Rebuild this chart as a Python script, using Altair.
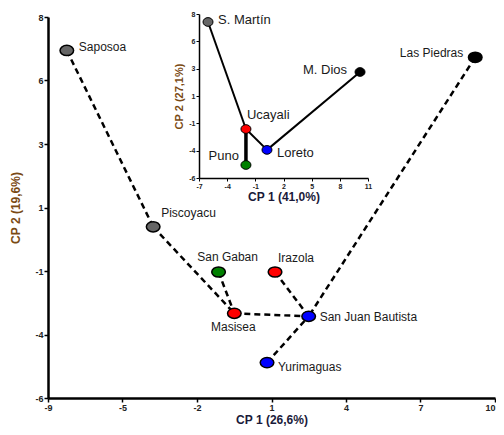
import altair as alt
import pandas as pd

# ---- main PCA (CP1 26,6% / CP2 19,6%) ----
main_names = ["Saposoa", "Piscoyacu", "San Gaban", "Masisea", "Irazola",
              "San Juan Bautista", "Yurimaguas", "Las Piedras"]
main_x = [-8.2, -4.53, -1.75, -1.08, 0.65, 2.08, 0.31, 9.16]
main_y = [6.77, 0.29, -1.37, -2.89, -1.37, -3.0, -4.70, 6.52]
main_colors = ["#666666", "#666666", "#008000", "#ff0000", "#ff0000",
               "#0000ff", "#0000ff", "#000000"]
main_edges = [("Saposoa", "Piscoyacu"), ("Piscoyacu", "Masisea"),
              ("San Gaban", "Masisea"), ("Masisea", "San Juan Bautista"),
              ("Irazola", "San Juan Bautista"), ("Yurimaguas", "San Juan Bautista"),
              ("Las Piedras", "San Juan Bautista")]
main_x_labels = ["-9", "-5", "-2", "1", "4", "7", "10"]
main_y_labels = ["-6", "-4", "-1", "1", "3", "6", "8"]

# ---- inset PCA (CP1 41,0% / CP2 27,1%) ----
ins_names = ["S. Martín", "M. Dios", "Ucayali", "Loreto", "Puno"]
ins_x = [-6.04, 10.15, -2.0, 0.24, -2.0]
ins_y = [7.32, 3.05, -1.82, -3.6, -4.89]
ins_colors = ["#666666", "#000000", "#ff0000", "#0000ff", "#008000"]
ins_edges = [("S. Martín", "Ucayali"), ("Ucayali", "Puno"),
             ("Ucayali", "Loreto"), ("Loreto", "M. Dios")]
ins_x_labels = ["-7", "-4", "-1", "2", "5", "8", "11"]
ins_y_labels = ["-6", "-4", "-1", "1", "3", "6", "8"]

FONT = "Liberation Sans"
TXT = "#1a1a1a"

W, H = 447, 381
ELLIPSE_MAIN = "M -1 0 A 1 0.75 0 1 0 1 0 A 1 0.75 0 1 0 -1 0 Z"
ELLIPSE_INS = "M -1 0 A 1 0.87 0 1 0 1 0 A 1 0.87 0 1 0 -1 0 Z"


def pts_df(names, xs, ys):
    return pd.DataFrame({"name": names, "x": xs, "y": ys})


def edges_df(names, xs, ys, edges):
    pos = {n: (a, b) for n, a, b in zip(names, xs, ys)}
    rows = []
    for a, b in edges:
        rows.append({"id": a + "-" + b, "x": pos[a][0], "y": pos[a][1],
                     "x2": pos[b][0], "y2": pos[b][1]})
    return pd.DataFrame(rows)


def label_expr(lo, hi, labels):
    step = (hi - lo) / (len(labels) - 1)
    arr = "[" + ",".join("'" + l + "'" for l in labels) + "]"
    return f"{arr}[round((datum.value - ({lo})) / {step})]"


def ticks(lo, hi, n):
    step = (hi - lo) / (n - 1)
    return [lo + i * step for i in range(n)]


# ---------- main ----------
mp = pts_df(main_names, main_x, main_y)
me = edges_df(main_names, main_x, main_y, main_edges)

mx_scale = alt.Scale(domain=[-9, 10], nice=False, zero=False)
my_scale = alt.Scale(domain=[-6, 8], nice=False, zero=False)
mx_axis = alt.Axis(title="CP 1 (26,6%)", values=ticks(-9, 10, 7),
                   labelExpr=label_expr(-9, 10, main_x_labels),
                   labelAlign={"condition": {"test": "datum.value > 9.5",
                                             "value": "right"},
                               "value": "center"},
                   labelFlush=False,
                   grid=False, domainColor="black", domainWidth=2.5,
                   tickColor="black", tickWidth=1.5, tickSize=4,
                   labelFont=FONT, labelFontSize=9, labelFontWeight="bold",
                   labelColor="#222", labelPadding=1,
                   titleFont=FONT, titleFontSize=12, titleFontWeight="bold",
                   titleColor="#1a1a3a", titlePadding=2)
my_axis = alt.Axis(title="CP 2 (19,6%)", values=ticks(-6, 8, 7),
                   labelExpr=label_expr(-6, 8, main_y_labels),
                   labelFlush=False,
                   grid=False, domainColor="black", domainWidth=2.5,
                   tickColor="black", tickWidth=1.5, tickSize=4,
                   labelFont=FONT, labelFontSize=9, labelFontWeight="bold",
                   labelColor="#222", labelPadding=1,
                   titleFont=FONT, titleFontSize=12, titleFontWeight="bold",
                   titleColor="#7a4a14", titlePadding=12)

m_x = alt.X("x:Q", scale=mx_scale, axis=mx_axis)
m_y = alt.Y("y:Q", scale=my_scale, axis=my_axis)

m_rules = alt.Chart(me).mark_rule(color="black", strokeWidth=2.5,
                                  strokeDash=[6, 4]).encode(
    x=m_x, y=m_y, x2="x2:Q", y2="y2:Q", detail="id:N")
m_points = alt.Chart(mp).mark_point(filled=True, shape=ELLIPSE_MAIN, size=185,
                                    stroke="black", strokeWidth=1.5,
                                    opacity=1).encode(
    x=m_x, y=m_y,
    fill=alt.Fill("name:N", scale=alt.Scale(domain=main_names, range=main_colors),
                  legend=None))

main_place = {
    "Saposoa": ("left", 12, -3),
    "Piscoyacu": ("left", 8, -14),
    "San Gaban": ("center", 9, -15),
    "Masisea": ("center", -1, 14),
    "Irazola": ("left", 3, -14),
    "San Juan Bautista": ("left", 11, 1),
    "Yurimaguas": ("left", 11, 4),
    "Las Piedras": ("right", -12, -4),
}
m_texts = []
for n in main_names:
    al, dx, dy = main_place[n]
    m_texts.append(
        alt.Chart(mp).transform_filter(alt.datum.name == n)
        .mark_text(align=al, baseline="middle", dx=dx, dy=dy, font=FONT,
                   fontSize=12, color=TXT)
        .encode(x=m_x, y=m_y, text="name:N"))

main = alt.layer(m_rules, m_points, *m_texts)

# ---------- inset ----------
ip = pts_df(ins_names, ins_x, ins_y)
ie = edges_df(ins_names, ins_x, ins_y, ins_edges)

ix_scale = alt.Scale(domain=[-7, 11], range=[151, 320], nice=False, zero=False)
iy_scale = alt.Scale(domain=[-6, 8], range=[161, -3], nice=False, zero=False)
ix_axis = alt.Axis(title="CP 1 (41,0%)", orient="bottom", offset=161 - H,
                   values=ticks(-7, 11, 7),
                   labelExpr=label_expr(-7, 11, ins_x_labels),
                   labelFlush=False,
                   grid=False, domainColor="black", domainWidth=1.5,
                   tickColor="black", tickWidth=1, tickSize=3,
                   labelFont=FONT, labelFontSize=7, labelFontWeight="bold",
                   labelColor="#222", labelPadding=1,
                   titleFont=FONT, titleFontSize=12, titleFontWeight="bold",
                   titleColor="#1a1a3a", titlePadding=2)
iy_axis = alt.Axis(title="CP 2 (27,1%)", orient="left", offset=-151,
                   values=ticks(-6, 8, 7),
                   labelExpr=label_expr(-6, 8, ins_y_labels),
                   labelFlush=False,
                   grid=False, domainColor="black", domainWidth=1.5,
                   tickColor="black", tickWidth=1, tickSize=3,
                   labelFont=FONT, labelFontSize=7, labelFontWeight="bold",
                   labelColor="#222", labelPadding=1,
                   titleFont=FONT, titleFontSize=11, titleFontWeight="bold",
                   titleColor="#7a4a14", titlePadding=4)

i_x = alt.X("x:Q", scale=ix_scale, axis=ix_axis)
i_y = alt.Y("y:Q", scale=iy_scale, axis=iy_axis)

i_rules = alt.Chart(ie).mark_rule(color="black", strokeWidth=2).encode(
    x=i_x, y=i_y, x2="x2:Q", y2="y2:Q", detail="id:N")
i_rules_thick = alt.Chart(ie).transform_filter(
    alt.datum.id == "Ucayali-Puno").mark_rule(color="black", strokeWidth=3.5).encode(
    x=i_x, y=i_y, x2="x2:Q", y2="y2:Q")
i_points = alt.Chart(ip).mark_point(filled=True, shape=ELLIPSE_INS, size=100,
                                    stroke="black", strokeWidth=1,
                                    opacity=1).encode(
    x=i_x, y=i_y,
    fill=alt.Fill("name:N", scale=alt.Scale(domain=ins_names, range=ins_colors),
                  legend=None))

ins_place = {
    "S. Martín": ("left", 10, -2),
    "M. Dios": ("right", -13, -2),
    "Ucayali": ("left", 1, -14),
    "Loreto": ("left", 10, 3),
    "Puno": ("right", -7, -9),
}
i_texts = []
for n in ins_names:
    al, dx, dy = ins_place[n]
    i_texts.append(
        alt.Chart(ip).transform_filter(alt.datum.name == n)
        .mark_text(align=al, baseline="middle", dx=dx, dy=dy, font=FONT,
                   fontSize=13, color=TXT)
        .encode(x=i_x, y=i_y, text="name:N"))

inset = alt.layer(i_rules, i_rules_thick, i_points, *i_texts)

chart = alt.layer(main, inset).resolve_scale(
    x="independent", y="independent", fill="independent"
).properties(
    width=W, height=H,
    autosize=alt.AutoSizeParams(type="none"),
    padding={"left": 40, "top": 9, "right": 1, "bottom": 29},
).configure_view(stroke=None)

chart.save("out.html", embed_options={"renderer": "svg", "actions": False})
